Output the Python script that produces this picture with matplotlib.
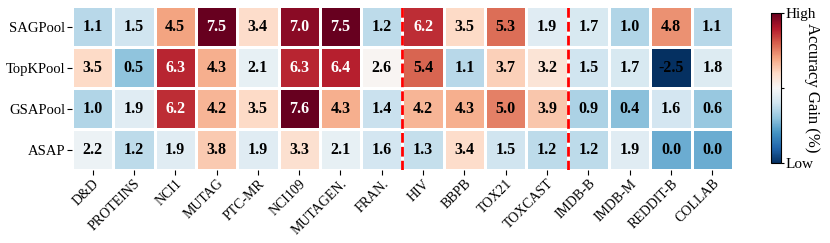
import matplotlib.pyplot as plt
import numpy as np

plt.rcParams['font.family'] = ['Liberation Serif', 'DejaVu Serif']

# methods (rows) and datasets (columns)
methods = ['SAGPool', 'TopKPool', 'GSAPool', 'ASAP']
datasets = ['D&D', 'PROTEINS', 'NCI1', 'MUTAG', 'PTC-MR', 'NCI109', 'MUTAGEN.', 'FRAN.',
            'HIV', 'BBPB', 'TOX21', 'TOXCAST', 'IMDB-B', 'IMDB-M', 'REDDIT-B', 'COLLAB']

sagpool = [1.1, 1.5, 4.5, 7.5, 3.4, 7.0, 7.5, 1.2, 6.2, 3.5, 5.3, 1.9, 1.7, 1.0, 4.8, 1.1]
topkpool = [3.5, 0.5, 6.3, 4.3, 2.1, 6.3, 6.4, 2.6, 5.4, 1.1, 3.7, 3.2, 1.5, 1.7, -2.5, 1.8]
gsapool = [1.0, 1.9, 6.2, 4.2, 3.5, 7.6, 4.3, 1.4, 4.2, 4.3, 5.0, 3.9, 0.9, 0.4, 1.6, 0.6]
asap = [2.2, 1.2, 1.9, 3.8, 1.9, 3.3, 2.1, 1.6, 1.3, 3.4, 1.5, 1.2, 1.2, 1.9, 0.0, 0.0]

data = np.array([sagpool, topkpool, gsapool, asap])
vmin, vmax = -2.5, 7.5

fig = plt.figure(figsize=(8.3, 2.43), dpi=100)
ax = fig.add_axes([0.0867, 0.30, 0.7964, 0.675])
cax = fig.add_axes([0.929, 0.329, 0.012, 0.617])

mesh = ax.pcolormesh(data, cmap='RdBu_r', vmin=vmin, vmax=vmax,
                     edgecolors='white', linewidth=1)
ax.set_xlim(0, len(datasets))
ax.set_ylim(len(methods), 0)

for i in range(data.shape[0]):
    for j in range(data.shape[1]):
        v = data[i, j]
        ax.text(j + 0.5, i + 0.5, f'{v:.1f}', ha='center', va='center',
                fontsize=11.5, fontweight='bold',
                color='white' if v > 6 else 'black')

# group separators
for x in [8, 12]:
    ax.axvline(x, color='red', linestyle=(0, (3.5, 1.5)), linewidth=2)

ax.set_xticks(np.arange(len(datasets)) + 0.5)
ax.set_xticklabels(datasets, rotation=45, ha='right', rotation_mode='anchor', fontsize=10)
ax.set_yticks(np.arange(len(methods)) + 0.5)
ax.set_yticklabels(methods, fontsize=10.5)
ax.tick_params(length=3.5, width=0.8, pad=1.5)
for s in ax.spines.values():
    s.set_visible(False)

cbar = fig.colorbar(mesh, cax=cax)
cbar.set_ticks([vmin, (vmin + vmax) / 2, vmax])
cbar.set_ticklabels(['Low', '', 'High'])
cbar.ax.tick_params(labelsize=11, pad=0.5, length=2.5)
cbar.outline.set_linewidth(0.8)
cbar.set_label('Accuracy Gain (%)', rotation=270, fontsize=12, va='center', ha='center')
cbar.ax.yaxis.set_label_coords(4.1, 0.5)

fig.savefig('out.png', dpi=100)
